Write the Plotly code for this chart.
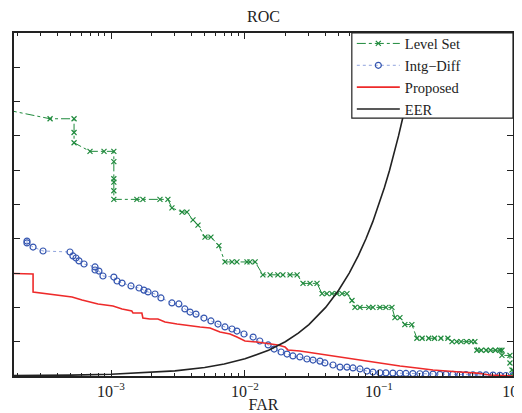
import plotly.graph_objects as go

# Level Set
ls_far = [1.7e-4, 3.51e-4, 5.30e-4, 5.30e-4, 5.30e-4, 6.97e-4, 8.87e-4, 1.05e-3, 1.05e-3, 1.05e-3, 1.05e-3,
          1.05e-3, 1.05e-3, 1.56e-3, 1.73e-3, 2.32e-3, 2.66e-3, 2.85e-3, 3.39e-3, 3.69e-3, 4.09e-3,
          4.46e-3, 5.03e-3, 5.57e-3, 6.39e-3, 7.09e-3, 8.0e-3, 8.71e-3, 1.035e-2, 1.09e-2, 1.19e-2,
          1.36e-2, 1.54e-2, 1.76e-2, 1.92e-2, 2.17e-2, 2.45e-2, 2.71e-2, 3.06e-2, 3.45e-2, 3.76e-2,
          4.09e-2, 4.46e-2, 4.86e-2, 5.30e-2, 5.77e-2, 6.29e-2, 6.62e-2, 7.22e-2, 8.4e-2, 9.02e-2,
          0.1017, 0.1127, 0.125, 0.1316, 0.1434, 0.156, 0.176, 0.192, 0.21, 0.235, 0.26, 0.29, 0.327,
          0.351, 0.38, 0.41, 0.45, 0.49, 0.52, 0.538, 0.58, 0.63, 0.68, 0.74, 0.80, 0.828, 0.828,
          0.95, 0.95, 0.984, 1.0]
ls_frr = [0.155, 0.150, 0.150, 0.142, 0.136, 0.131, 0.131, 0.131, 0.125, 0.115, 0.113,
          0.108, 0.103, 0.103, 0.103, 0.103, 0.103, 0.098, 0.0956, 0.0956, 0.091,
          0.088, 0.081, 0.081, 0.076, 0.0665, 0.0665, 0.0665, 0.0665, 0.0665, 0.0665,
          0.059, 0.059, 0.059, 0.059, 0.059, 0.059, 0.054, 0.054, 0.054, 0.048,
          0.048, 0.048, 0.048, 0.048, 0.048, 0.044, 0.040, 0.040, 0.040, 0.040,
          0.040, 0.040, 0.040, 0.034, 0.034, 0.030, 0.030, 0.022, 0.022, 0.022, 0.022, 0.022, 0.022,
          0.020, 0.020, 0.020, 0.020, 0.020, 0.020, 0.015, 0.015, 0.015, 0.015, 0.015, 0.015, 0.015, 0.012,
          0.012, 0.0076, 0.0035, 0.0]

# Intg-Diff
id_far = [2.36e-4, 2.36e-4, 2.62e-4, 3.11e-4, 4.94e-4, 5.20e-4, 5.48e-4, 5.77e-4, 6.29e-4, 7.60e-4,
          7.60e-4, 8.13e-4, 8.71e-4, 1.05e-3, 1.11e-3, 1.21e-3, 1.41e-3, 1.62e-3, 1.76e-3, 1.89e-3,
          2.13e-3, 2.36e-3, 2.85e-3, 3.21e-3, 3.56e-3, 3.89e-3, 4.31e-3, 4.94e-3, 5.57e-3, 6.29e-3,
          7.09e-3, 8.0e-3, 8.71e-3, 9.83e-3, 1.15e-2, 1.29e-2, 1.49e-2, 1.65e-2, 1.86e-2, 2.06e-2,
          2.28e-2, 2.57e-2, 2.90e-2, 3.22e-2, 3.63e-2, 3.95e-2, 4.54e-2, 5.12e-2, 5.77e-2, 6.40e-2,
          7.22e-2, 8.13e-2, 9.02e-2, 0.1017, 0.1127, 0.127, 0.1434, 0.159, 0.179, 0.202, 0.224,
          0.253, 0.285, 0.316, 0.356, 0.402, 0.446, 0.503, 0.567, 0.629, 0.710, 0.800, 0.887, 1.0]
id_frr = [0.0787, 0.0776, 0.0752, 0.0729, 0.0723, 0.0700, 0.0688, 0.0671, 0.0653, 0.0636,
          0.0618, 0.0612, 0.0583, 0.0577, 0.0554, 0.0542, 0.0525, 0.0513, 0.0501, 0.0490,
          0.0478, 0.0455, 0.0426, 0.0420, 0.0391, 0.0373, 0.0361, 0.0338, 0.0321, 0.0303,
          0.0286, 0.0274, 0.0262, 0.0245, 0.0227, 0.0204, 0.0181, 0.0157, 0.0140, 0.0128,
          0.0117, 0.0111, 0.0099, 0.0093, 0.0087, 0.0076, 0.0064, 0.0052, 0.0052, 0.0047,
          0.0041, 0.0029, 0.0023, 0.0019, 0.0018, 0.0017, 0.0016, 0.0015, 0.0014, 0.0013, 0.0012,
          0.0011, 0.0010, 0.0010, 0.0009, 0.0008, 0.0008, 0.0007, 0.0006, 0.0006, 0.0005, 0.0004, 0.0003, 0.0002]

# Proposed
pr_far = [1.5e-4, 2.62e-4, 2.62e-4, 5.12e-4, 6.08e-4, 8.0e-4, 1.035e-3, 1.21e-3, 1.43e-3, 1.46e-3,
          1.70e-3, 1.73e-3, 1.95e-3, 2.24e-3, 2.53e-3, 3.11e-3, 4.62e-3, 5.48e-3, 6.51e-3, 7.73e-3,
          8.71e-3, 1.0e-2, 1.23e-2, 1.41e-2, 1.76e-2, 1.99e-2, 2.09e-2, 2.57e-2, 3.63e-2, 5.12e-2,
          7.22e-2, 0.1017, 0.1434, 0.192, 0.253, 0.402, 0.538, 0.673, 1.0]
pr_frr = [0.0600, 0.0595, 0.0490, 0.0461, 0.0443, 0.0420, 0.0408, 0.0391, 0.0379, 0.0367,
          0.0367, 0.0338, 0.0332, 0.0332, 0.0315, 0.0303, 0.0286, 0.0280, 0.0256, 0.0245,
          0.0227, 0.0204, 0.0198, 0.0192, 0.0181, 0.0169, 0.0152, 0.0146, 0.0128, 0.0111,
          0.0093, 0.0076, 0.0058, 0.0047, 0.0035, 0.0023, 0.0017, 0.0006, 0.0]

# EER line (FRR = FAR)
eer_far = [1.5e-4, 3e-4, 5e-4, 1e-3, 2e-3, 3e-3, 5e-3, 7e-3, 0.01, 0.015, 0.02, 0.025, 0.03, 0.04,
           0.05, 0.06, 0.07, 0.08, 0.09, 0.1, 0.11, 0.12, 0.13, 0.14, 0.15, 0.16, 0.18, 0.2, 0.22]
eer_frr = [1.5e-4, 3e-4, 5e-4, 1e-3, 2e-3, 3e-3, 5e-3, 7e-3, 0.01, 0.015, 0.02, 0.025, 0.03, 0.04,
           0.05, 0.06, 0.07, 0.08, 0.09, 0.1, 0.11, 0.12, 0.13, 0.14, 0.15, 0.16, 0.18, 0.2, 0.22]

x_tickvals = [1e-3, 1e-2, 1e-1, 1]
x_ticktext = ["10<sup>−3</sup>", "10<sup>−2</sup>", "10<sup>−1</sup>", "10<sup>0</sup>"]
y_tickvals = [0, 0.02, 0.04, 0.06, 0.08, 0.1, 0.12, 0.14, 0.16, 0.18, 0.2]

GREEN = "#1f8a3c"
BLUE = "#3556b0"
RED = "#ee2a2a"
INK = "#222222"
SERIF = "Liberation Serif"

fig = go.Figure()
fig.add_trace(go.Scatter(x=ls_far, y=ls_frr, name="Level Set", mode="lines+markers",
                         line=dict(color=GREEN, width=1, dash="dashdot"),
                         marker=dict(symbol="x-thin-open", size=5, line=dict(color=GREEN, width=1.2))))
fig.add_trace(go.Scatter(x=id_far, y=id_frr, name="Intg−Diff", mode="lines+markers",
                         line=dict(color="#8fa3dd", width=1, dash="dot"),
                         marker=dict(symbol="circle-open", size=6, color=BLUE, line=dict(color=BLUE, width=1.2))))
fig.add_trace(go.Scatter(x=pr_far, y=pr_frr, name="Proposed", mode="lines",
                         line=dict(color=RED, width=1.6)))
fig.add_trace(go.Scatter(x=eer_far, y=eer_frr, name="EER", mode="lines",
                         line=dict(color=INK, width=1.6)))

# legend frame (drawn above the traces, below the legend entries)
fig.add_shape(type="rect", xref="paper", yref="paper", x0=0.677, x1=1.0, y0=0.752, y1=1.0,
              fillcolor="white", line=dict(color=INK, width=1.2), layer="above")

fig.update_layout(
    width=514, height=405,
    margin=dict(l=6, r=9, t=25, b=37, autoexpand=False),
    paper_bgcolor="white", plot_bgcolor="white",
    font=dict(family=SERIF, size=15, color=INK),
    title=dict(text="ROC", x=0.5, xref="paper", xanchor="center", yref="container", y=0.979,
               yanchor="middle", font=dict(family=SERIF, size=16, color=INK)),
    showlegend=True,
    legend=dict(x=0.677, xanchor="left", y=1.016, yanchor="top", bgcolor="rgba(0,0,0,0)",
                borderwidth=0,
                font=dict(family=SERIF, size=14.5, color=INK),
                tracegroupgap=0, itemwidth=43),
    xaxis=dict(type="log", range=[-3.724, 0.0005], tickvals=x_tickvals, ticktext=x_ticktext,
               automargin=False, ticklabeloverflow="allow",
               ticks="inside", ticklen=6, tickcolor=INK, showgrid=False, zeroline=False,
               showline=True, linecolor=INK, linewidth=1.5, mirror="ticks",
               tickfont=dict(family=SERIF, size=16, color=INK),
               minor=dict(ticks="inside", ticklen=3, tickcolor=INK, dtick="D1", showgrid=False),
               title=dict(text="FAR", standoff=0, font=dict(family=SERIF, size=16, color=INK))),
    yaxis=dict(range=[0, 0.2], tickvals=y_tickvals, showticklabels=False, automargin=False,
               ticks="inside", ticklen=6, tickcolor=INK, showgrid=False, zeroline=False,
               showline=True, linecolor=INK, linewidth=1.5, mirror="ticks"),
)

fig.write_html("out.html")
